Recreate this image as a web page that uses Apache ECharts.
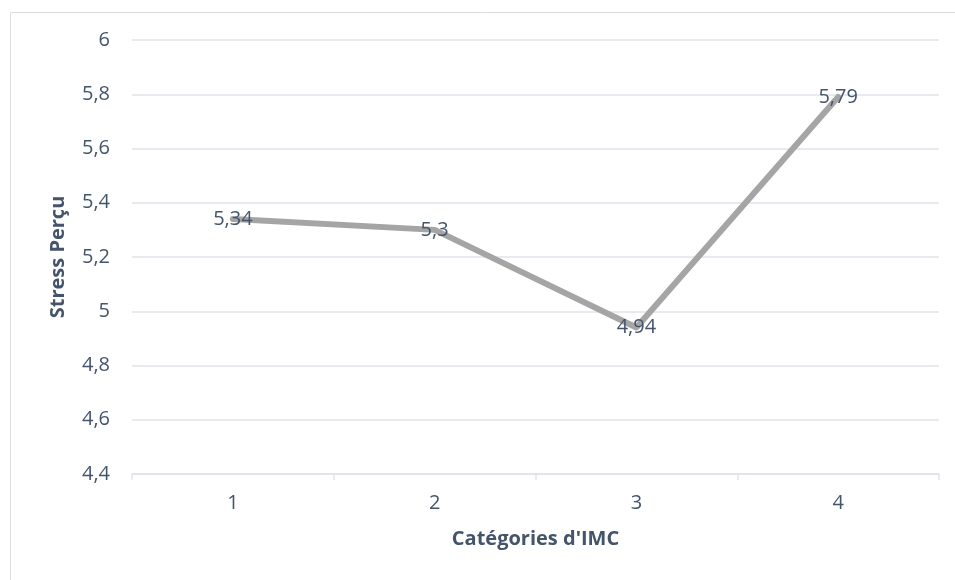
<!DOCTYPE html>
<html>
<head>
<meta charset="utf-8">
<script src="https://cdn.jsdelivr.net/npm/echarts@6/dist/echarts.min.js"></script>
<style>
html,body{margin:0;padding:0;background:#fff;}
#chart{width:955px;height:580px;}
</style>
</head>
<body>
<div id="chart"></div>
<script>
const categories = ['1', '2', '3', '4'];
const stressValues = [5.34, 5.3, 4.94, 5.79];
const yTicks = { min: 4.4, max: 6, interval: 0.2 };

const textColor = '#44546a';
const gridColor = '#dfe4ea';
const fontFamily = '"Open Sans", "DejaVu Sans", sans-serif';
const fs = 20;
const fmt = v => String(+(+v).toFixed(2)).replace('.', ',');

const chart = echarts.init(document.getElementById('chart'), null, { renderer: 'canvas' });
chart.setOption({
  backgroundColor: '#ffffff',
  animation: false,
  textStyle: { fontFamily: fontFamily },
  graphic: [{
    type: 'rect',
    left: 8, top: 10,
    shape: { width: 1000, height: 1000 },
    style: { fill: 'none', stroke: '#d9dde3', lineWidth: 1 },
    silent: true, z: -1
  }],
  grid: { left: 132, right: 16, top: 40, bottom: 106, containLabel: false },
  xAxis: {
    type: 'category',
    data: categories,
    boundaryGap: true,
    name: "Catégories d'IMC",
    nameLocation: 'middle',
    nameGap: 55,
    nameTextStyle: { color: textColor, fontSize: fs, fontWeight: 'bold', fontFamily: fontFamily },
    axisLine: { show: true, lineStyle: { color: gridColor, width: 1.5 } },
    axisTick: { show: true, interval: 0, length: 6, lineStyle: { color: gridColor, width: 1.5 } },
    axisLabel: { color: textColor, fontSize: fs, margin: 19, fontFamily: fontFamily },
    splitLine: { show: false }
  },
  yAxis: {
    type: 'value',
    min: yTicks.min,
    max: yTicks.max,
    interval: yTicks.interval,
    name: 'Stress Perçu',
    nameLocation: 'middle',
    nameGap: 64,
    nameTextStyle: { color: textColor, fontSize: fs, fontWeight: 'bold', fontFamily: fontFamily },
    axisLine: { show: false },
    axisTick: { show: false },
    axisLabel: { color: textColor, fontSize: fs, margin: 22, fontFamily: fontFamily, formatter: v => fmt(v) },
    splitLine: { show: true, lineStyle: { color: gridColor, width: 1.5 } }
  },
  series: [{
    type: 'line',
    data: stressValues,
    symbol: 'circle',
    symbolSize: 2,
    showSymbol: true,
    itemStyle: { color: 'rgba(0,0,0,0)' },
    lineStyle: { color: '#a5a5a5', width: 6, cap: 'round', join: 'round' },
    label: {
      show: true,
      position: 'inside',
      color: textColor,
      fontSize: fs,
      fontFamily: fontFamily,
      formatter: p => fmt(p.value)
    }
  }]
});
</script>
</body>
</html>
